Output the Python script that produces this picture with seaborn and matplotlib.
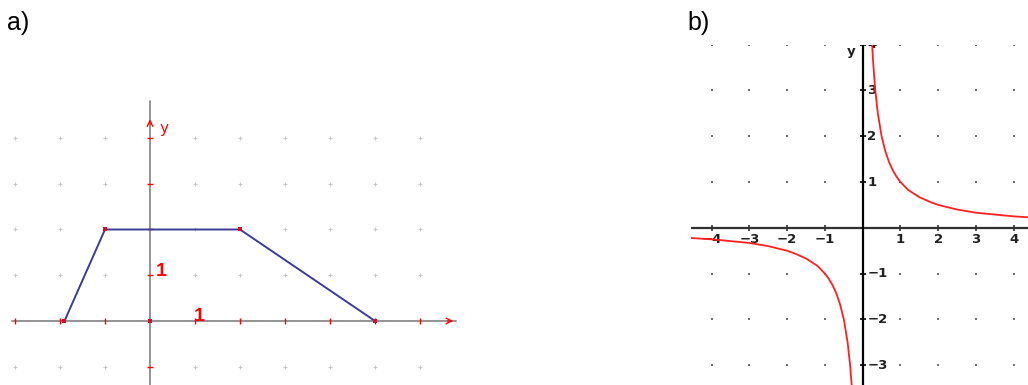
"""Two panels: a) trapezoid on a dot grid, b) hyperbola y = 1/x"""
import matplotlib.pyplot as plt
import numpy as np
import pandas as pd
import seaborn as sns

sns.set_style("white")
plt.rcParams["font.family"] = ["Liberation Sans", "DejaVu Sans"]

# panel a data
trap_x = [-1.9, -1, 2, 5]
trap_y = [0, 2, 2, 0]
a_xticks = [-3, -2, -1, 1, 2, 3, 4, 5, 6]
a_yticks = [-1, 1, 2, 3, 4]
a_grid_x = [-3, -2, -1, 1, 2, 3, 4, 5, 6]
a_grid_y = [-1, 1, 2, 3, 4]

# panel b data
pos_x = [0.25, 0.28, 0.33, 0.4, 0.5, 0.6, 0.7, 0.8, 0.9, 1.0, 1.2, 1.5, 1.8,
         2.0, 2.5, 3.0, 3.5, 4.0, 4.4]
pos_y = [4.0, 3.57, 3.03, 2.5, 2.0, 1.67, 1.43, 1.25, 1.11, 1.0, 0.83, 0.67,
         0.56, 0.5, 0.4, 0.33, 0.29, 0.25, 0.23]
neg_x = [-4.6, -4.0, -3.5, -3.0, -2.5, -2.0, -1.8, -1.5, -1.2, -1.0, -0.9,
         -0.8, -0.7, -0.6, -0.5, -0.4, -0.33, -0.29]
neg_y = [-0.22, -0.25, -0.29, -0.33, -0.4, -0.5, -0.56, -0.67, -0.83, -1.0,
         -1.11, -1.25, -1.43, -1.67, -2.0, -2.5, -3.03, -3.45]
b_xticks = [-4, -3, -2, -1, 1, 2, 3, 4]
b_yticks = [-3, -2, -1, 1, 2, 3, 4]
b_xlabels = ["\u22124", "\u22123", "\u22122", "\u22121", "1", "2", "3", "4"]
b_ylabels = ["\u22123", "\u22122", "\u22121", "1", "2", "3", "4"]

fig = plt.figure(figsize=(10.28, 3.85), dpi=100)

# ---------------- panel a ----------------
axa = fig.add_axes([0, 0, 470 / 1028, 295 / 385])
axa.set_xlim(-3.333, 7.11)
axa.set_ylim(-1.40, 5.05)
axa.axis("off")

gx, gy = np.meshgrid(a_grid_x, a_grid_y)
grid_a = pd.DataFrame({"x": gx.ravel(), "y": gy.ravel()})
sns.scatterplot(data=grid_a, x="x", y="y", ax=axa, marker="+", s=12,
                color="#c8c8c8", linewidth=0.8, zorder=1)

# axes lines
axa.plot([-3.07, 6.8], [0, 0], color="#808080", lw=1.2, zorder=2)
axa.plot([0, 0], [-1.45, 4.8], color="#808080", lw=1.2, zorder=2)
axa.annotate("", xy=(6.8, 0), xytext=(6.55, 0),
             arrowprops=dict(arrowstyle="->", color="red", lw=1))
axa.annotate("", xy=(0, 4.47), xytext=(0, 4.25),
             arrowprops=dict(arrowstyle="->", color="red", lw=1))

# red ticks
sns.scatterplot(x=a_xticks, y=[0] * len(a_xticks), ax=axa, marker="|", s=25,
                color="red", linewidth=1, zorder=3)
sns.scatterplot(x=[0] * len(a_yticks), y=a_yticks, ax=axa, marker="_", s=25,
                color="red", linewidth=1, zorder=3)

trap = pd.DataFrame({"x": trap_x, "y": trap_y})
sns.lineplot(data=trap, x="x", y="y", sort=False, estimator=None, ax=axa,
             color="#3c3c96", lw=1.4, zorder=4)
sns.scatterplot(data=trap, x="x", y="y", ax=axa, marker="s", s=10,
                color="#d01030", linewidth=0, zorder=5)
sns.scatterplot(x=[0], y=[0], ax=axa, marker="s", s=10, color="#d01030",
                linewidth=0, zorder=5)

axa.text(0.2, 4.2, "y", color="red", fontsize=11, ha="left", va="center",
         family="DejaVu Sans")
axa.text(1.1, 0.1, "1", color="red", fontsize=14, fontweight="bold",
         ha="center", va="center")
axa.text(0.12, 1.08, "1", color="red", fontsize=14, fontweight="bold",
         ha="left", va="center")
axa.set_xlabel("")
axa.set_ylabel("")

# ---------------- panel b ----------------
axb = fig.add_axes([691 / 1028, 0, 337 / 1028, 340 / 385])
axb.set_xlim(-4.55, 4.38)
axb.set_ylim(-3.43, 3.99)
axb.axis("off")

bx, by = np.meshgrid(b_xticks, b_yticks)
grid_b = pd.DataFrame({"x": bx.ravel(), "y": by.ravel()})
sns.scatterplot(data=grid_b, x="x", y="y", ax=axb, marker="s", s=2,
                color="#707070", linewidth=0, zorder=1)

axb.axhline(0, color="#303030", lw=1.6, zorder=2)
axb.axvline(0, color="black", lw=1.6, zorder=2)
sns.scatterplot(x=b_xticks, y=[0] * len(b_xticks), ax=axb, marker="|", s=20,
                color="#303030", linewidth=1.2, zorder=3)
sns.scatterplot(x=[0] * len(b_yticks), y=b_yticks, ax=axb, marker="_", s=20,
                color="black", linewidth=1.2, zorder=3)

for xv, lab in zip(b_xticks, b_xlabels):
    axb.text(xv, -0.26, lab, fontsize=9.5, fontweight="bold", color="#202020",
             ha="center", va="center", family="DejaVu Sans")
for yv, lab in zip(b_yticks, b_ylabels):
    axb.text(0.12, yv, lab, fontsize=9.5, fontweight="bold", color="#202020",
             ha="left", va="center", family="DejaVu Sans", clip_on=True)
axb.text(-0.3, 3.85, "y", fontsize=9.5, fontweight="bold", color="#202020",
         ha="center", va="center", family="DejaVu Sans")

sns.lineplot(x=pos_x, y=pos_y, ax=axb, color="#ff2020", lw=1.3,
             estimator=None, zorder=4)
sns.lineplot(x=neg_x, y=neg_y, ax=axb, color="#ff2020", lw=1.3,
             estimator=None, zorder=4)
axb.set_xlim(-4.55, 4.38)
axb.set_ylim(-3.43, 3.99)
axb.set_xlabel("")
axb.set_ylabel("")

fig.text(7 / 1028, 1 - 23 / 385, "a)", fontsize=18, color="black",
         ha="left", va="center")
fig.text(687 / 1028, 1 - 23 / 385, "b)", fontsize=18, color="black",
         ha="left", va="center")

fig.savefig("out.png", dpi=100)
